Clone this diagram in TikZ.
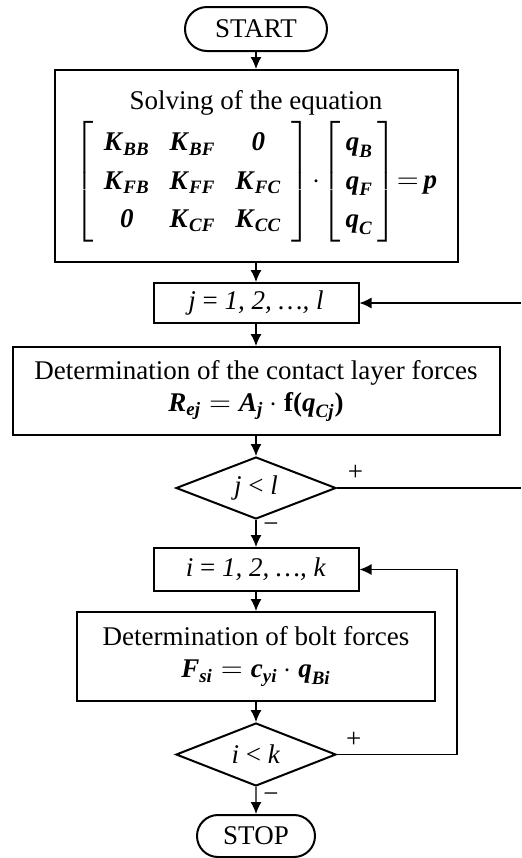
\documentclass[tikz,border=0pt]{standalone}
\usepackage{amsmath}
\usepackage{fontspec}
\setmainfont{Liberation Serif}
\usetikzlibrary{shapes.geometric,shapes.misc,arrows.meta}
\newcommand{\bfit}[1]{\textbf{\textit{#1}}}
\renewcommand{\arraystretch}{1.2}
\setlength{\arraycolsep}{5pt}
\begin{document}
\begin{tikzpicture}[x=.5pt, y=-.5pt, font=\fontsize{13.5}{16}\selectfont, >={Latex[length=6pt,width=5.5pt]},
  box/.style={draw, line width=1pt, align=center, inner sep=0pt},
  term/.style={box, rounded rectangle},
  test/.style={box, diamond, aspect=2.5, minimum width=80pt},
  flow/.style={->, line width=.65pt}]
\useasboundingbox (0,0) rectangle (521,858);
\path
(521,303) coordinate (jin)
(521,488) coordinate (jout)
(457,700) coordinate (iback);
\node[term, minimum width=71pt, minimum height=22pt] (start) at (256,29) {START};
\node[box, minimum width=201.5pt, minimum height=96pt] (solve) at (256,166) {Solving of the equation\\[2pt]
  $\left[\begin{array}{ccc}
  \bfit{K}_{\bfit{BB}} & \bfit{K}_{\bfit{BF}} & \bfit{0}\\
  \bfit{K}_{\bfit{FB}} & \bfit{K}_{\bfit{FF}} & \bfit{K}_{\bfit{FC}}\\
  \bfit{0} & \bfit{K}_{\bfit{CF}} & \bfit{K}_{\bfit{CC}}
  \end{array}\right]\!\cdot\!
  \left[\begin{array}{@{\,}c@{\,}}\bfit{q}_{\bfit{B}}\\ \bfit{q}_{\bfit{F}}\\ \bfit{q}_{\bfit{C}}\end{array}\right]\!{=}\,\bfit{p}$};
\node[box, minimum width=102.5pt, minimum height=20pt] (jloop) at (256,303) {\textit{j} = \textit{1, 2, …, l}};
\node[box, minimum width=243.5pt, minimum height=44pt] (contact) at (256,391) {Determination of the contact layer forces\\
  $\bfit{R}_{\bfit{ej}}=\bfit{A}_{\bfit{j}}\cdot\textbf{f(}\bfit{q}_{\bfit{Cj}}\textbf{)}$};
\node[test, minimum height=31pt] (jtest) at (256,488) {\textit{j} < \textit{l}};
\node[box, minimum width=102.5pt, minimum height=21.5pt] (iloop) at (256,569.5) {\textit{i} = \textit{1, 2, …, k}};
\node[box, minimum width=179pt, minimum height=44.5pt] (bolt) at (256,656.5) {Determination of bolt forces\\
  $\bfit{F}_{\bfit{si}}=\bfit{c}_{\bfit{yi}}\cdot\bfit{q}_{\bfit{Bi}}$};
\node[test, minimum height=31.5pt] (itest) at (256,754.5) {\textit{i} < \textit{k}};
\node[term, minimum width=59pt, minimum height=21pt] (stop) at (256,836) {STOP};
\draw[flow] (start) -- (solve);
\draw[flow] (solve) -- (jloop);
\draw[flow] (jloop) -- (contact);
\draw[flow] (contact) -- (jtest);
\draw[flow] (jtest) -- node[pos=.28, right] {−} (iloop);
\draw[flow] (iloop) -- (bolt);
\draw[flow] (bolt) -- (itest);
\draw[flow] (itest) -- node[pos=.38, right] {−} (stop);
\draw[flow] (jin) -- (jloop);
\draw[line width=.65pt] (jtest) -- node[pos=.1, above] {+} (jout);
\draw[flow] (itest) -| node[pos=.07, above] {+} (iback) |- (iloop);
\end{tikzpicture}
\end{document}
